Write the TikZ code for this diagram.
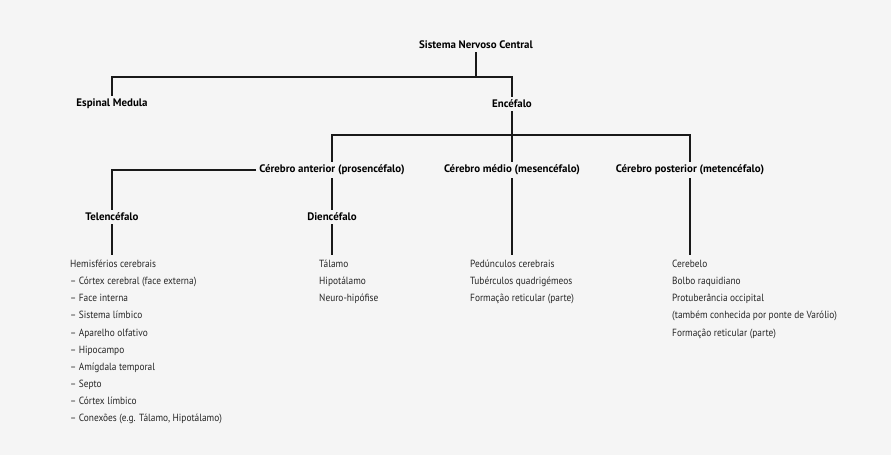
\documentclass[tikz,border=0pt]{standalone}
\usepackage{fontspec}
\setmainfont[FakeStretch=0.9]{PT Sans}
\newfontfamily\hdfont[FakeStretch=1.0]{PT Sans}
\definecolor{bgc}{HTML}{F5F5F5}
\definecolor{txt}{HTML}{262626}
\tikzset{
  hd/.style={font=\hdfont\fontsize{10.9}{12}\selectfont\bfseries, text=black, inner sep=3pt},
  lst/.style={font=\fontsize{10.4}{17.1}\selectfont, text=txt, align=left, anchor=north west, inner sep=0pt},
  ln/.style={line width=2.6pt, draw=black!90}
}
\begin{document}
\begin{tikzpicture}[x=1pt,y=-1pt]
\fill[bgc] (0,0) rectangle (891,455);
\useasboundingbox (0,0) rectangle (891,455);
% headings
\node[hd] (snc) at (476,45) {Sistema Nervoso Central};
\node[hd] (em) at (112,104) {Espinal Medula};
\node[hd] (enc) at (512,104) {Encéfalo};
\node[hd] (ca) at (332,170) {Cérebro anterior (prosencéfalo)};
\node[hd] (cm) at (512,170) {Cérebro médio (mesencéfalo)};
\node[hd] (cp) at (690,170) {Cérebro posterior (metencéfalo)};
\node[hd] (tel) at (112,217) {Telencéfalo};
\node[hd] (die) at (332,217) {Diencéfalo};
% lists
\node[lst] (ltel) at (70,260) {Hemisférios cerebrais\\
– Córtex cerebral (face externa)\\
– Face interna\\
– Sistema límbico\\
– Aparelho olfativo\\
– Hipocampo\\
– Amígdala temporal\\
– Septo\\
– Córtex límbico\\
– Conexões (e.g. Tálamo, Hipotálamo)};
\node[lst] (ldie) at (319,260) {Tálamo\\ Hipotálamo\\ Neuro-hipófise};
\node[lst] (lcm) at (470,260) {Pedúnculos cerebrais\\ Tubérculos quadrigémeos\\ Formação reticular (parte)};
\node[lst] (lcp) at (672,260) {Cerebelo\\ Bolbo raquidiano\\ Protuberância occipital\\ (também conhecida por ponte de Varólio)\\ Formação reticular (parte)};
% junctions
\coordinate (b1) at (476,77);
\coordinate (b2) at (512,135);
\coordinate (e1) at (112,255);
\coordinate (e2) at (332,255);
\coordinate (e3) at (512,255);
\coordinate (e4) at (690,255);
% connectors
\draw[ln] (snc.south) -- (b1);
\draw[ln] (em.north) |- (b1) -| (enc.north);
\draw[ln] (enc.south) -- (b2);
\draw[ln] (ca.north) |- (b2) -| (cp.north);
\draw[ln] (b2) -- (cm.north);
\draw[ln] (ca.west) -| (tel.north);
\draw[ln] (ca.south) -- (die.north);
\draw[ln] (tel.south) -- (e1);
\draw[ln] (die.south) -- (e2);
\draw[ln] (cm.south) -- (e3);
\draw[ln] (cp.south) -- (e4);
\end{tikzpicture}
\end{document}
